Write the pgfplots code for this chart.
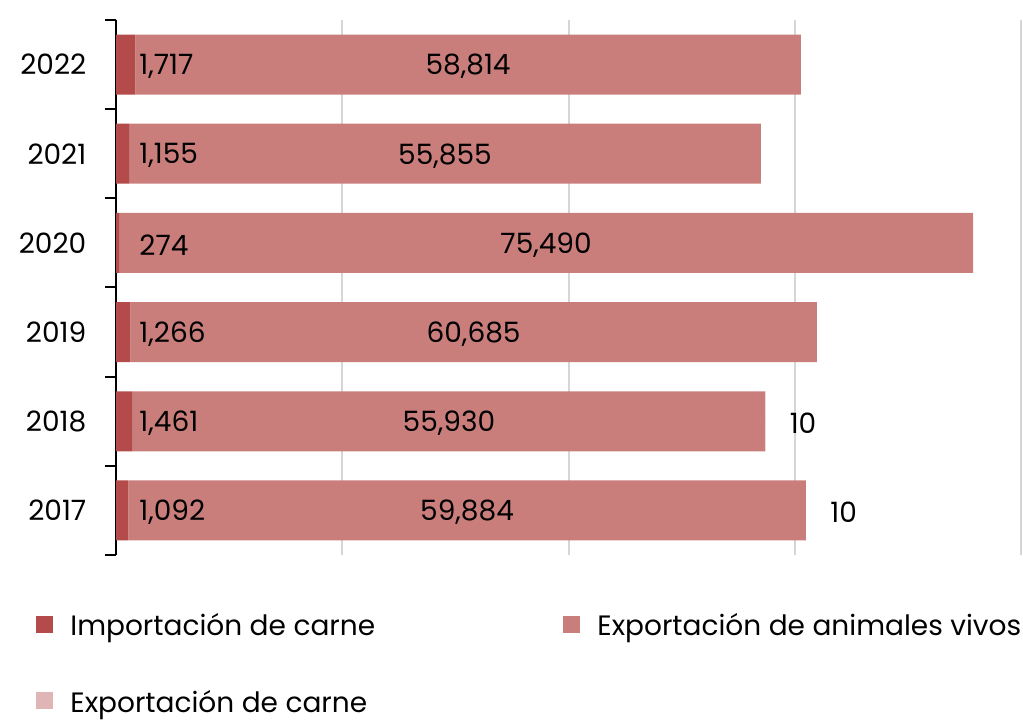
\documentclass[border=0pt]{standalone}
\usepackage{pgfplots}
\usepackage{pgfplotstable}
\pgfplotsset{compat=1.18}
\usepackage{fontspec}
\setmainfont{Poppins}
\definecolor{imp}{HTML}{B34B4A}
\definecolor{live}{HTML}{C97E7C}
\definecolor{meat}{HTML}{E0B5B5}
\pgfplotsset{sqleg/.style={legend image code/.code={\fill[##1,draw=none] (0pt,-3pt) rectangle (8.5pt,5.5pt);}}}
\pgfplotstableread{
y year imp live meat
0 2017 1092 59884 10
1 2018 1461 55930 10
2 2019 1266 60685 0
3 2020 274 75490 0
4 2021 1155 55855 0
5 2022 1717 58814 0
}\data
\begin{document}
\fontsize{14pt}{17pt}\selectfont
\begin{tikzpicture}[font=\fontsize{14pt}{17pt}\selectfont]
\pgfplotsset{common/.style={width=452.5pt, height=267.5pt, scale only axis,
  xmin=0, xmax=80000, ymin=-0.5, ymax=5.5, scaled x ticks=false}}
\begin{axis}[name=ax, common,
  xbar stacked, bar width=30pt,
  separate axis lines,
  axis x line*=bottom, axis y line*=left,
  x axis line style={draw=none},
  y axis line style={-, black, line width=1pt},
  xtick={20000,40000,60000,80000}, xticklabels={},
  xmajorgrids, grid style={color=black!16, line width=1pt},
  major tick length=0pt,
  ytick={0,...,5}, yticklabels={2017,2018,2019,2020,2021,2022},
  minor ytick={-0.5,0.5,...,5.5}, minor tick length=5.5pt,
  tick align=outside,
  ytick style={black, line width=1pt},
  yticklabel style={xshift=-10pt},
  legend columns=2,
  legend style={at={(-0.0884,-0.1084)}, anchor=north west, draw=none, fill=none,
    inner sep=0pt, row sep=25.3pt, column sep=0pt,
    nodes={inner sep=0pt},
    /tikz/every odd column/.append style={column sep=8.5pt}},
  legend cell align=left,
]
\addplot+[sqleg, fill=imp, draw=none] table[x=imp, y=y]{\data};
\addlegendentry{\makebox[246.5pt][l]{Importación de carne}}
\addplot+[sqleg, fill=live, draw=none] table[x=live, y=y]{\data};
\addlegendentry{Exportación de animales vivos}
\addplot+[sqleg, fill=meat, draw=none] table[x=meat, y=y]{\data};
\addlegendentry{Exportación de carne}
\end{axis}
\begin{axis}[common, hide axis,
  /pgf/number format/.cd, 1000 sep={,}, assume math mode=true, /pgfplots/.cd,
  nodes near coords={\pgfmathprintnumber{\pgfplotspointmeta}},
  every node near coord/.append style={text=black, inner sep=0pt, yshift=-1pt},
  lbl/.style={only marks, mark=*, mark size=0pt, mark options={draw=none, fill=none}}]
\addplot[lbl, point meta=\thisrow{imp},
  every node near coord/.append style={anchor=west, xshift=11.5pt}]
  table[x expr=0, y=y]{\data};
\addplot[lbl, point meta=\thisrow{live},
  every node near coord/.append style={anchor=center}]
  table[x expr=\thisrow{imp}+\thisrow{live}/2, y=y]{\data};
\addplot[lbl, point meta=\thisrow{meat},
  restrict expr to domain={\thisrow{meat}}{1:100},
  every node near coord/.append style={anchor=west, xshift=12pt}]
  table[x expr=\thisrow{imp}+\thisrow{live}+\thisrow{meat}, y=y]{\data};
\end{axis}
\pgfresetboundingbox
\path[use as bounding box] ([xshift=-58pt,yshift=-83pt]ax.south west) rectangle ([xshift=1pt,yshift=10pt]ax.north east);
\end{tikzpicture}
\end{document}
